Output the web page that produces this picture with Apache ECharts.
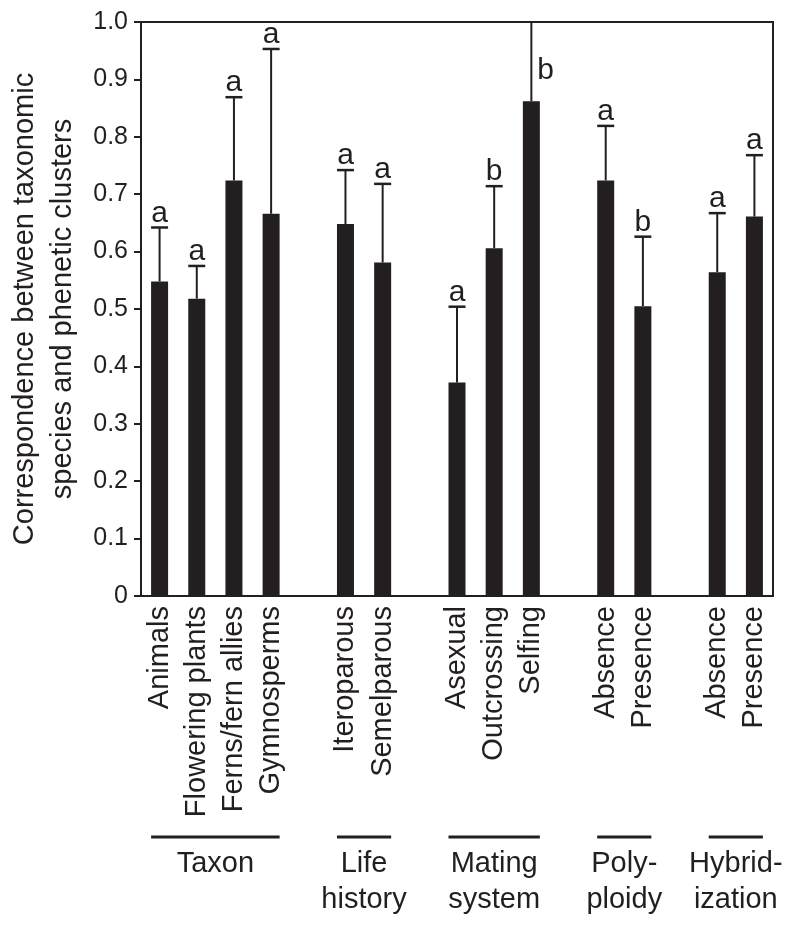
<!DOCTYPE html>
<html><head><meta charset="utf-8">
<script src="https://cdn.jsdelivr.net/npm/echarts@6/dist/echarts.min.js"></script>
<style>html,body{margin:0;padding:0;background:#fff}#c{width:800px;height:928px}</style>
</head><body><div id="c"></div>
<script>
const categories = ['Animals','Flowering plants','Ferns/fern allies','Gymnosperms','',
  'Iteroparous','Semelparous','',
  'Asexual','Outcrossing','Selfing','',
  'Absence','Presence','',
  'Absence','Presence'];
const means = [0.548,0.518,0.724,0.666,null, 0.648,0.581,null, 0.372,0.606,0.862,null, 0.724,0.505,null, 0.564,0.661];
const upper = [0.642,0.575,0.869,0.953,null, 0.742,0.718,null, 0.504,0.714,1.0,null, 0.819,0.626,null, 0.667,0.768];
const letters = ['a','a','a','a','', 'a','a','', 'a','b','b','', 'a','b','', 'a','a'];
const yTickLabels = ['0','0.1','0.2','0.3','0.4','0.5','0.6','0.7','0.8','0.9','1.0'];
const groupNames = ['Taxon','Life\nhistory','Mating\nsystem','Poly-\nploidy','Hybrid-\nization'];
const groupStart = [0,5,8,12,15];
const groupEnd = [3,6,10,13,16];

const INK = '#231f20';
const FONT = '"Liberation Sans", Arial, Helvetica, sans-serif';
const BAR_W = 17;
const Y_MAX = 1.0;

const errData = [];
means.forEach((m, i) => { if (m != null) errData.push([i, m, upper[i], letters[i]]); });

const chart = echarts.init(document.getElementById('c'), null, {renderer: 'canvas'});
chart.setOption({
  animation: false,
  backgroundColor: '#fff',
  textStyle: {fontFamily: FONT, color: INK},
  grid: {left: 141, right: 27, top: 22, bottom: 332, show: true, borderColor: INK, borderWidth: 2,
         containLabel: false, outerBoundsMode: 'none'},
  xAxis: {
    type: 'category', data: categories,
    axisLine: {show: true, lineStyle: {color: INK, width: 2}},
    axisTick: {show: false},
    splitLine: {show: false},
    axisLabel: {rotate: 90, interval: 0, fontSize: 29, margin: 10, color: INK, fontFamily: FONT}
  },
  yAxis: {
    type: 'value', min: 0, max: Y_MAX, interval: 0.1,
    name: 'Correspondence between taxonomic\nspecies and phenetic clusters',
    nameLocation: 'middle', nameGap: 58,
    nameTextStyle: {fontSize: 29, lineHeight: 38, color: INK, fontFamily: FONT, align: 'center'},
    axisLine: {show: true, lineStyle: {color: INK, width: 2}},
    axisTick: {show: true, length: 7, lineStyle: {color: INK, width: 2}},
    splitLine: {show: false},
    axisLabel: {fontSize: 25, margin: 13, color: INK, fontFamily: FONT,
      formatter: v => yTickLabels[Math.round(v * 10)]}
  },
  series: [
    {
      type: 'bar', data: means.map(v => v == null ? '-' : v), barWidth: BAR_W,
      itemStyle: {color: INK}, silent: true
    },
    {
      type: 'custom', data: errData, z: 5, silent: true,
      encode: {x: 0, y: [1, 2]},
      renderItem: function (params, api) {
        const i = api.value(0), m = api.value(1), u = api.value(2);
        const letter = errData[params.dataIndex][3];
        const p0 = api.coord([i, m]);
        const p1 = api.coord([i, u]);
        const children = [
          {type: 'line', shape: {x1: p0[0], y1: p0[1], x2: p1[0], y2: p1[1]}, style: {stroke: INK, lineWidth: 2}}
        ];
        if (u < Y_MAX) {
          children.push({type: 'line', shape: {x1: p1[0] - BAR_W / 2, y1: p1[1], x2: p1[0] + BAR_W / 2, y2: p1[1]},
            style: {stroke: INK, lineWidth: 2.5}});
          children.push({type: 'text', style: {text: letter, x: p1[0], y: p1[1] + 1, align: 'center',
            verticalAlign: 'bottom', fill: INK, font: '30px ' + FONT}});
        } else {
          const pm = api.coord([i, (m + u) / 2]);
          children.push({type: 'text', style: {text: letter, x: p1[0] + 6, y: pm[1] - 6, align: 'left',
            verticalAlign: 'top', fill: INK, font: '30px ' + FONT}});
        }
        return {type: 'group', children: children};
      }
    }
  ]
});

const gr = [];
groupNames.forEach((n, k) => {
  const x0 = chart.convertToPixel({xAxisIndex: 0}, groupStart[k]) - BAR_W / 2;
  const x1 = chart.convertToPixel({xAxisIndex: 0}, groupEnd[k]) + BAR_W / 2;
  gr.push({type: 'line', shape: {x1: x0, y1: 837, x2: x1, y2: 837}, style: {stroke: INK, lineWidth: 3}, silent: true});
  gr.push({type: 'text', x: (x0 + x1) / 2, y: 846, silent: true,
    style: {text: n, align: 'center', verticalAlign: 'top', fill: INK, fontSize: 29, fontFamily: FONT, lineHeight: 36}});
});
chart.setOption({graphic: gr});
</script>
</body></html>
